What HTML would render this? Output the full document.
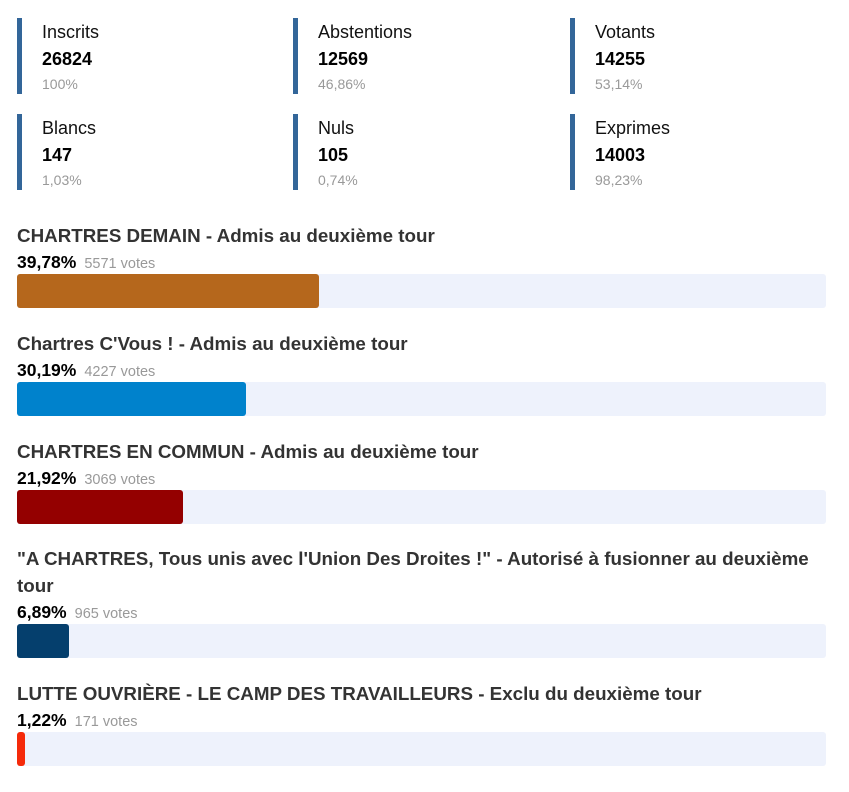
<!DOCTYPE html>
<html><head><meta charset="utf-8"><style>
body{margin:0;width:849px;height:792px;background:#fff;font-family:"Liberation Sans",sans-serif;position:relative;overflow:hidden}
.stat{position:absolute;width:240px;height:76px;border-left:5px solid #336699;box-sizing:border-box;padding-left:20px}
.stat .l{font-size:18px;color:#111;position:absolute;top:4px;left:20px;white-space:nowrap}
.stat .v{font-size:18px;font-weight:bold;color:#000;position:absolute;top:31px;left:20px}
.stat .p{font-size:14px;color:#999;position:absolute;top:58px;left:20px}
.title{position:absolute;left:17px;font-size:18.8px;font-weight:bold;color:#333;white-space:nowrap;line-height:27px}
.pct{position:absolute;left:17px;font-size:17.5px;font-weight:bold;color:#000;white-space:nowrap}
.pct span{font-size:14.5px;font-weight:normal;color:#999;margin-left:8px}
.track{position:absolute;left:17px;width:809px;height:34px;background:#eef2fc;border-radius:3px}
.bar{position:absolute;left:0;top:0;height:34px;border-radius:3px}
</style></head><body>
<div class="stat" style="left:17px;top:18px"><div class="l">Inscrits</div><div class="v">26824</div><div class="p">100%</div></div>
<div class="stat" style="left:293px;top:18px"><div class="l">Abstentions</div><div class="v">12569</div><div class="p">46,86%</div></div>
<div class="stat" style="left:570px;top:18px"><div class="l">Votants</div><div class="v">14255</div><div class="p">53,14%</div></div>
<div class="stat" style="left:17px;top:114px"><div class="l">Blancs</div><div class="v">147</div><div class="p">1,03%</div></div>
<div class="stat" style="left:293px;top:114px"><div class="l">Nuls</div><div class="v">105</div><div class="p">0,74%</div></div>
<div class="stat" style="left:570px;top:114px"><div class="l">Exprimes</div><div class="v">14003</div><div class="p">98,23%</div></div>
<div id="results"></div>
<script>
const names = ["CHARTRES DEMAIN - Admis au deuxième tour","Chartres C'Vous ! - Admis au deuxième tour","CHARTRES EN COMMUN - Admis au deuxième tour","\"A CHARTRES, Tous unis avec l'Union Des Droites !\" - Autorisé à fusionner au deuxième<br>tour","LUTTE OUVRIÈRE - LE CAMP DES TRAVAILLEURS - Exclu du deuxième tour"];
const pcts = [39.78, 30.19, 21.92, 6.89, 1.22];
const pctLabels = ["39,78%","30,19%","21,92%","6,89%","1,22%"];
const votes = [5571, 4227, 3069, 965, 171];
const colors = ["#b5671c","#0082cc","#940000","#053f6d","#f52a0a"];
const tops = [222, 330, 438, 545, 680];
const titleLines = [1,1,1,2,1];
function xScale(p){ return Math.max(6, p/100*762 - 1); }
const root = document.getElementById('results');
names.forEach((n,i)=>{
  const t=document.createElement('div'); t.className='title'; t.style.top=tops[i]+'px'; t.innerHTML=n;
  
  
  root.appendChild(t);
  const py=tops[i]+27*titleLines[i]+3;
  const p=document.createElement('div'); p.className='pct'; p.style.top=py+'px';
  p.innerHTML=pctLabels[i]+'<span>'+votes[i]+' votes</span>';
  
  
  root.appendChild(p);
  const tr=document.createElement('div'); tr.className='track'; tr.style.top=(py+22)+'px';
  
  
  const b=document.createElement('div'); b.className='bar'; b.style.width=xScale(pcts[i])+'px'; b.style.background=colors[i];
  
  
  tr.appendChild(b); root.appendChild(tr);
});
</script>
</body></html>
